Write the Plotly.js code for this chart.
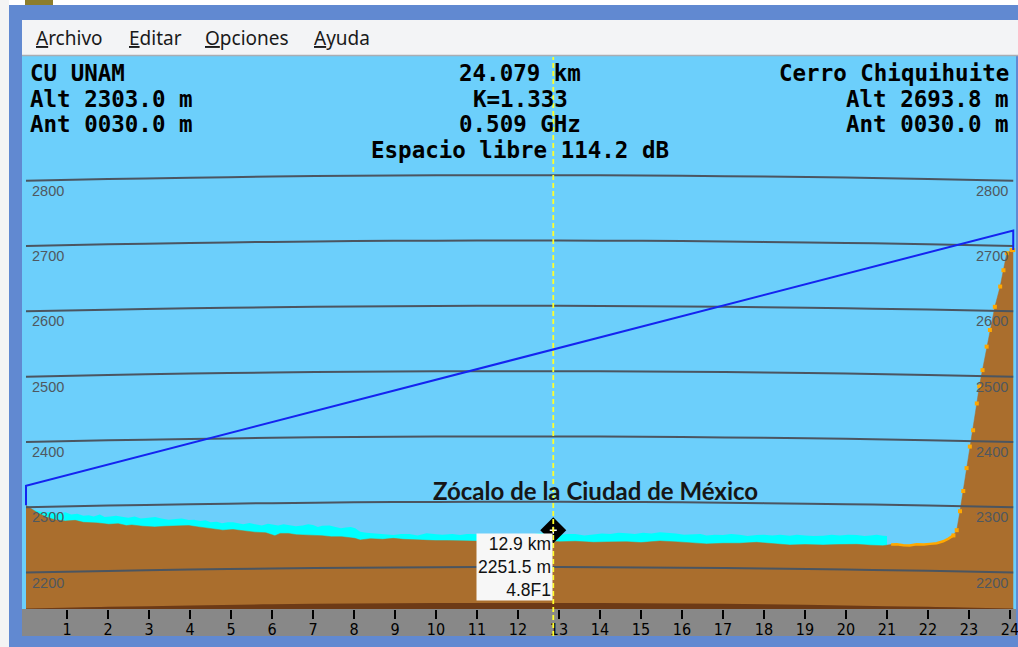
<!DOCTYPE html>
<html><head><meta charset="utf-8">
<script src="https://cdn.plot.ly/plotly-3.0.1.min.js"></script>
<style>html,body{margin:0;padding:0;background:#ffffff;overflow:hidden}</style>
</head><body><div id="chart" style="width:1018px;height:647px"></div>
<script>
// ---------------- data ----------------
const siteNames = ['CU UNAM', 'Cerro Chiquihuite'];
const siteAltM = [2303.0, 2693.8];
const antennaM = [30.0, 30.0];
const pathKm = 24.079;
const kFactor = 1.333;
const freqGHz = 0.509;
const freeSpaceDb = 114.2;
const placeLabel = 'Zócalo de la Ciudad de México';
const menuItems = ['Archivo', 'Editar', 'Opciones', 'Ayuda'];

const terrainKm = [0.00,0.05,0.15,0.30,0.50,0.70,0.96,1.20,1.40,1.53,1.75,2.02,2.25,2.45,2.58,2.85,3.14,3.40,3.70,3.97,4.20,4.46,4.65,4.80,5.05,5.30,5.58,5.85,6.07,6.20,6.40,6.60,6.85,7.05,7.22,7.45,7.70,8.02,8.15,8.40,8.70,8.96,9.20,9.50,9.77,10.00,10.30,10.59,10.85,11.20,11.60,12.00,12.40,12.75,13.02,13.40,13.84,14.20,14.65,15.00,15.46,15.90,16.28,16.60,17.00,17.40,17.82,18.20,18.63,19.00,19.44,19.80,20.26,20.60,20.90,21.10,21.24,21.40,21.55,21.72,21.90,22.05,22.21,22.37,22.50,22.62,22.70,22.78,22.86,22.94,23.02,23.10,23.19,23.25,23.33,23.43,23.51,23.63,23.76,23.84,23.92,24.04,24.079];
const terrainM = [2303,2301,2297,2291,2285,2281,2279,2280,2277,2277,2276,2274,2275,2272,2273,2271,2270,2271,2272,2272,2270,2268,2266,2265,2266,2264,2262,2261,2256.5,2260,2260,2258,2258,2257,2256.5,2255,2255,2252.5,2250,2252,2251,2252.5,2251,2250,2250,2249,2249,2248.4,2249,2248,2249,2248,2249,2248,2247.3,2248,2246.4,2247,2247.3,2246,2248.4,2247,2245.5,2244,2244.9,2245,2246.4,2244,2242.3,2243,2242.3,2243,2243.3,2242,2241.2,2243,2243.3,2242,2241.5,2243.3,2243,2244,2244.9,2248,2252,2257,2265,2294,2325,2360,2393,2418,2459,2485,2510,2546,2571.5,2607,2638,2663,2689,2694,2693.8];

const clutterKm = [0.00,0.10,0.30,0.45,0.60,0.80,0.96,1.10,1.25,1.40,1.53,1.65,1.80,1.92,2.05,2.20,2.34,2.50,2.65,2.80,2.99,3.15,3.30,3.48,3.65,3.80,3.97,4.10,4.25,4.38,4.50,4.65,4.78,4.92,5.05,5.18,5.30,5.45,5.59,5.75,5.90,6.02,6.15,6.28,6.40,6.58,6.75,6.88,7.00,7.12,7.22,7.40,7.55,7.68,7.80,7.92,8.03,8.15,8.30,8.50,8.70,8.96,9.15,9.35,9.55,9.77,9.95,10.15,10.40,10.59,10.75,10.90,11.30,11.70,12.10,12.37,12.55,12.70,13.02,13.20,13.40,13.62,13.84,14.05,14.25,14.45,14.65,14.85,15.05,15.25,15.46,15.65,15.85,16.05,16.28,16.45,16.60,16.80,17.00,17.20,17.40,17.60,17.82,18.00,18.20,18.40,18.63,18.80,19.00,19.20,19.44,19.65,19.85,20.05,20.26,20.45,20.60,20.75,20.90,21.00];
const clutterM = [2303,2298,2294,2292,2293,2290,2292.3,2289,2290,2287,2288,2286,2289,2285,2286,2287,2285.6,2284,2286,2283,2284,2285,2283,2281,2282,2283,2280.5,2281,2279,2280,2277,2278,2275.5,2277,2277,2275,2274,2276,2274,2272,2275,2273,2272,2274,2273,2271,2272,2274,2273,2270,2271.8,2272,2270,2268,2269,2270,2267.8,2262.6,2261,2260,2258,2257.6,2259,2259,2257,2260.2,2259,2258,2259,2257.6,2259,2258.7,2259,2258,2259,2258.7,2261,2260,2257.6,2259,2259,2257,2258.7,2260,2259,2261,2260.2,2259,2261,2260,2261.7,2261,2260,2258,2258.5,2259,2257,2258,2257.6,2259,2258,2256,2257.6,2258,2257,2258,2256.5,2258,2257,2256,2256.5,2258,2257,2258,2257.6,2256,2257,2258,2256.5,2256];

const bulgeKm = [0, 2, 4, 6, 8, 10, 12, 14, 16, 18, 20, 22, 24.079];
const bulgeM = [0, 2.6, 4.7, 6.4, 7.6, 8.3, 8.5, 8.3, 7.6, 6.4, 4.8, 2.7, 0];
const baseM = 2145;

const gridLevels = [2200, 2300, 2400, 2500, 2600, 2700, 2800];
const xTicks = [1,2,3,4,5,6,7,8,9,10,11,12,13,14,15,16,17,18,19,20,21,22,23,24];

const cursorKm = [12.86];
const cursorMarkM = [2265];
const cursorElevM = 2251.5;
const cursorFresnel = 4.8;
const orangeFromKm = 21.0;
const slopeFromKm = 22.6;

// ---------------- layout helpers ----------------
const P = { l: 22, r: 1016, t: 56, b: 609 };
const px = x => (x - P.l) / (P.r - P.l);
const py = y => (P.b - y) / (P.b - P.t);

const SKY = '#6ccffb', BROWN = '#aa6e2d', DARK = '#6d3a16', FRAME = '#6189d1';
const MONO = 'DejaVu Sans Mono, monospace';
const SANS = 'Liberation Sans, Arial, sans-serif';

const traces = [];
traces.push({ x: clutterKm, y: clutterM, type: 'scatter', mode: 'lines', fill: 'tozeroy',
  fillcolor: '#00ffff', line: { width: 0, color: '#00ffff' }, hoverinfo: 'skip' });
traces.push({ x: terrainKm, y: terrainM, type: 'scatter', mode: 'lines', fill: 'tozeroy',
  fillcolor: BROWN, line: { width: 0.5, color: BROWN }, hoverinfo: 'skip' });
traces.push({ x: bulgeKm, y: bulgeM.map(b => baseM + b), type: 'scatter', mode: 'lines', fill: 'tozeroy',
  fillcolor: DARK, line: { width: 0, color: DARK, shape: 'spline' }, hoverinfo: 'skip' });
gridLevels.forEach(g => traces.push({ x: bulgeKm, y: bulgeM.map(b => g + b), type: 'scatter', mode: 'lines',
  line: { width: 2, color: '#4b5560', shape: 'spline' }, hoverinfo: 'skip' }));

const flatIdx = terrainKm.map((k, i) => i).filter(i => terrainKm[i] >= orangeFromKm && terrainKm[i] <= slopeFromKm + 0.05);
const slopeIdx = terrainKm.map((k, i) => i).filter(i => terrainKm[i] > slopeFromKm);
traces.push({ x: flatIdx.map(i => terrainKm[i]), y: flatIdx.map(i => terrainM[i]), type: 'scatter', mode: 'lines',
  line: { width: 2.5, color: '#ffa800' }, hoverinfo: 'skip' });
traces.push({ x: slopeIdx.map(i => terrainKm[i]), y: slopeIdx.map(i => terrainM[i]), type: 'scatter', mode: 'markers',
  marker: { symbol: 'square', size: 4, color: '#ffa800' }, hoverinfo: 'skip' });

traces.push({ x: [0, 0, pathKm, pathKm],
  y: [siteAltM[0], siteAltM[0] + antennaM[0], siteAltM[1] + antennaM[1], siteAltM[1]],
  type: 'scatter', mode: 'lines', line: { width: 2, color: '#1424f0' }, hoverinfo: 'skip' });

traces.push({ x: cursorKm, y: cursorMarkM, type: 'scatter', mode: 'markers',
  marker: { symbol: 'diamond', size: 20, color: '#000000' }, hoverinfo: 'skip' });
traces.push({ x: cursorKm, y: cursorMarkM, type: 'scatter', mode: 'markers',
  marker: { symbol: 'cross-thin', size: 5, color: '#ffffff', line: { width: 1.5, color: '#ffffff' } }, hoverinfo: 'skip' });

// ---------------- annotations ----------------
const pad0 = v => v.toFixed(1).padStart(6, '0');
const ann = [];
function txt(text, x, y, xanchor, size, font, color) {
  ann.push({ text: text, x: x, y: y, xref: 'paper', yref: 'paper', xanchor: xanchor, yanchor: 'middle',
    showarrow: false, font: { family: font, size: size, color: color || '#000000' } });
}
const rows = [73, 99, 124, 150];
const leftLines = [siteNames[0], 'Alt ' + pad0(siteAltM[0]) + ' m', 'Ant ' + pad0(antennaM[0]) + ' m'];
const rightLines = [siteNames[1], 'Alt ' + pad0(siteAltM[1]) + ' m', 'Ant ' + pad0(antennaM[1]) + ' m'];
const midLines = [pathKm.toFixed(3) + ' km', 'K=' + kFactor.toFixed(3), freqGHz.toFixed(3) + ' GHz', 'Espacio libre ' + freeSpaceDb.toFixed(1) + ' dB'];
leftLines.forEach((t, i) => txt('<b>' + t + '</b>', px(28), py(rows[i]), 'left', 22.5, MONO));
rightLines.forEach((t, i) => txt('<b>' + t + '</b>', px(1011), py(rows[i]), 'right', 22.5, MONO));
midLines.forEach((t, i) => txt('<b>' + t + '</b>', px(520), py(rows[i]), 'center', 22.5, MONO));

const menuX = [34, 127, 203, 312];
menuItems.forEach((m, i) => txt('<u>' + m[0] + '</u>' + m.slice(1), px(menuX[i]), py(38), 'left', 19,
  'Noto Sans, Open Sans, sans-serif', '#1a1a1a'));

gridLevels.forEach(g => {
  ann.push({ text: String(g), x: px(30), y: g, xref: 'paper', yref: 'y', xanchor: 'left', yanchor: 'middle', yshift: -10,
    showarrow: false, font: { family: SANS, size: 14.5, color: '#4f5860' } });
  ann.push({ text: String(g), x: px(1010), y: g, xref: 'paper', yref: 'y', xanchor: 'right', yanchor: 'middle', yshift: -10,
    showarrow: false, font: { family: SANS, size: 14.5, color: '#4f5860' } });
});

txt('<b>' + placeLabel + '</b>', px(595), py(490), 'center', 24, 'Lato, Open Sans, sans-serif', '#161616');

ann.push({ text: cursorKm[0].toFixed(1) + ' km<br>' + cursorElevM.toFixed(1) + ' m<br>' + cursorFresnel.toFixed(1) + 'F1',
  x: cursorKm[0], xref: 'x', y: py(533), yref: 'paper', xanchor: 'right', yanchor: 'top', align: 'right',
  showarrow: false, bgcolor: '#f7f7f7', borderpad: 1, width: 73, height: 64,
  font: { family: SANS, size: 17.5, color: '#111111' } });

// ---------------- shapes (window chrome) ----------------
const shapes = [
  { type: 'rect', xref: 'paper', yref: 'paper', x0: px(0), x1: px(1018), y0: py(5), y1: py(0), fillcolor: '#ffffff', line: { width: 0 }, layer: 'below' },
  { type: 'rect', xref: 'paper', yref: 'paper', x0: px(25), x1: px(53), y0: py(5), y1: py(0), fillcolor: '#8c7d2c', line: { width: 0 }, layer: 'below' },
  { type: 'rect', xref: 'paper', yref: 'paper', x0: px(0), x1: px(9), y0: py(647), y1: py(0), fillcolor: '#f4f4f4', line: { width: 0 }, layer: 'below' },
  { type: 'rect', xref: 'paper', yref: 'paper', x0: px(22), x1: px(1018), y0: py(55), y1: py(20), fillcolor: '#f3f4f6', line: { width: 0 }, layer: 'below' },
  { type: 'line', xref: 'paper', yref: 'paper', x0: px(22), x1: px(1018), y0: py(55.5), y1: py(55.5), line: { width: 1.5, color: '#a9adb3' }, layer: 'below' },
  { type: 'rect', xref: 'paper', yref: 'paper', x0: px(22), x1: px(1016), y0: py(636), y1: py(609), fillcolor: '#888888', line: { width: 0 }, layer: 'below' },
  { type: 'line', xref: 'x', yref: 'paper', x0: cursorKm[0], x1: cursorKm[0], y0: py(636), y1: py(57),
    line: { width: 1.8, color: '#ffff2a', dash: '5px,3px' }, layer: 'above' }
];

const layout = {
  width: 1018, height: 647,
  margin: { l: P.l, r: 1018 - P.r, t: P.t, b: 647 - P.b, pad: 0 },
  paper_bgcolor: FRAME, plot_bgcolor: SKY,
  showlegend: false,
  xaxis: { range: [-0.0976, 24.146], tickvals: xTicks, ticktext: xTicks.map(String), ticks: 'outside', ticklen: 9, tickwidth: 2,
    tickcolor: '#000000', showgrid: false, zeroline: false, showline: false, fixedrange: true,
    ticklabeloverflow: 'allow', ticklabelstandoff: -3,
    tickfont: { family: 'Liberation Sans Narrow, DejaVu Sans Condensed, Liberation Sans, Arial, sans-serif', size: 16, color: '#000000' } },
  yaxis: { range: [2144.3, 2991], visible: false, showgrid: false, zeroline: false, fixedrange: true },
  annotations: ann,
  shapes: shapes
};

Plotly.newPlot('chart', traces, layout, { displayModeBar: false, staticPlot: true });
</script>
</body></html>
